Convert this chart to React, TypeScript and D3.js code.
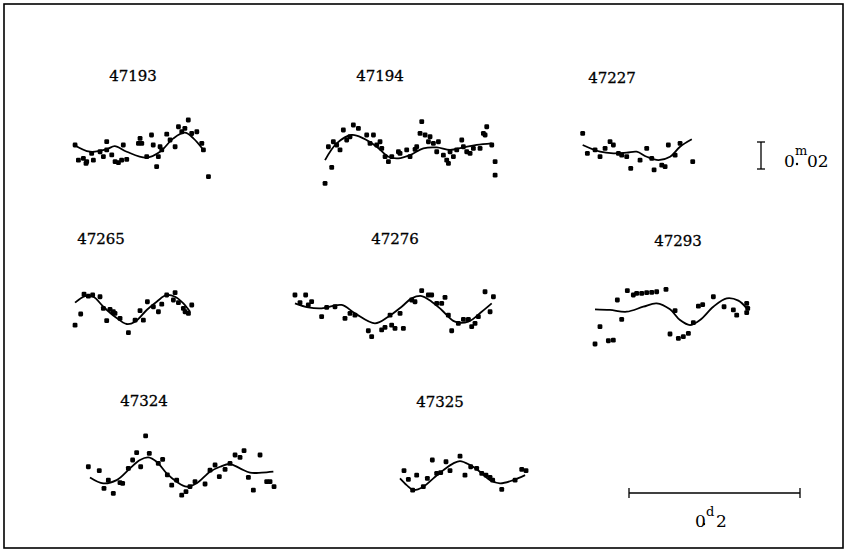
import React from "react";
import * as d3 from "d3";

// ---- data: phase in milli-days (md), magnitude offset in mmag (positive = fainter, downward)
const starIds = ["47193", "47194", "47227", "47265", "47276", "47293", "47324", "47325"];

const obs47193 = [[3.6,-1.5],[7.5,9.7],[13.3,8.4],[17.2,10.9],[16.4,12.1],[23,4.7],[25,9.7],[32.8,3.5],[36.7,7.2],[40.6,-4],[40.6,2.2],[46.5,5.9],[50.4,10.9],[54.3,11.6],[58,9.7],[60,-1.5],[64,9.2],[77.7,-2.7],[79.6,-6.4],[81.6,-2.7],[87.4,7.2],[93,-8.9],[95,-1.5],[101,7.2],[99,14.6],[103,-0.2],[105,2.2],[110.8,-9.6],[114.7,-5.2],[120.6,-0.2],[124.5,-15],[128.4,-11.3],[132,-13.8],[136,-20],[140,-10],[146,-11.3],[151.8,-2.7],[153.7,2.2],[159.6,22]];
const fit47193 = [[1.6,-1.9],[21,3.5],[40.6,1.7],[50,-0.7],[64,3.5],[87,7.9],[103,3.5],[118.6,-6.4],[132,-10.6],[142,-6.4],[153.7,2.2]];

const obs47194 = [[2.4,27],[10.2,15.1],[6.3,-0.2],[12.1,-3.9],[16,-1.5],[19.9,2.2],[23.8,-12.6],[27.7,-5.2],[31.6,-7.6],[35.5,-16.3],[41.4,-13.8],[51.1,-8.9],[59,-8.9],[55,-2.7],[62.8,-1.5],[66.7,-3.9],[68.7,1],[72.6,7.2],[76.5,10.9],[80.4,7.2],[88.2,3.5],[90.1,4.7],[97.9,2.2],[101.8,7.2],[107.7,1.7],[109.6,-0.2],[115.5,-18.8],[113.5,-10.1],[119.4,-8.9],[125.2,-7.6],[123.3,-3.9],[129.1,-2.7],[135,-3.9],[133,3.5],[140.8,6],[144.7,9.7],[146.7,12.1],[148.6,3.5],[152.5,7.2],[156.4,2.2],[162.3,-5.2],[164.2,-0.2],[168.1,3.5],[172,4.7],[175.9,1],[183.7,1],[187.6,-10.1],[191.5,-15],[189.6,-8.9],[197.4,-1.5],[201.3,10.9],[201.3,20.8]];
const fit47194 = [[2.4,9.7],[16,-2.7],[33.6,-8.9],[47.2,-6.4],[62.8,-0.2],[76.5,7.2],[88.2,8.4],[101.8,6],[117.4,1],[133,0.3],[148.6,2.2],[164.2,0.3],[179.8,-1.5],[197.4,-2.7]];

const obs47227 = [[0.8,-10.1],[6.3,4.7],[15.3,2.2],[21.1,7.2],[27,1],[32.8,-4],[36.7,-1.5],[42.6,4.7],[46.5,6],[52.3,7.2],[57,15.8],[67.9,9.7],[75.7,1],[81.6,8.4],[84.3,17],[93.3,13.4],[97.2,14.6],[101,-1.5],[108.9,6],[114.7,-2.7],[129.5,10.9]];
const fit47227 = [[0.8,-1.5],[21.1,3.5],[36.7,4.7],[52.3,4.2],[64,3.5],[75.7,7.2],[89.4,9.7],[103,7.2],[114.7,-0.2],[128.4,-5.7]];

const obs47265 = [[2.4,13.4],[9,5.2],[12.9,-9.6],[18,-8.1],[23,-8.9],[31.6,-7.6],[35.5,1],[39.4,10.1],[43.3,1.7],[47.2,3.5],[49.1,4.7],[55,8.4],[64.8,19],[72.6,9.7],[78.4,2.7],[82.3,9.7],[87,-3.9],[94,-0.2],[99.9,3.5],[103.8,-2.2],[109.6,-8.9],[119.4,-10.6],[117.4,-5.2],[123.3,-3.2],[129.1,1],[131.1,3.5],[135,4.7],[138.9,-1.5]];
const fit47265 = [[2.4,-3.2],[14,-8.1],[23.8,-7.6],[35.5,-0.2],[49.1,7.2],[62.8,12.6],[72.6,10.9],[86.2,2.2],[97.9,-3.9],[109.6,-8.9],[119.4,-7.6],[129.1,-2.7],[136.9,3.5]];

const obs47276 = [[2.3,-8.9],[8.2,-3.2],[14.8,-8.9],[17.9,-1.5],[21.8,-4],[33.5,7.2],[39.4,0.3],[49.1,-0.2],[60.8,8.4],[66.7,4.7],[72.5,6],[88.1,17.6],[92,22],[103.7,17],[107.6,15.1],[113.5,6],[115.4,13.4],[119.3,15.8],[125.2,4.7],[129.1,15.8],[138.8,-5.2],[142.7,-3.9],[150.5,-12.1],[158.3,-8.9],[162.2,-8.9],[168.1,-2.7],[173.9,-2.7],[177.8,-7.1],[181.7,6],[185.6,17.6],[193.4,12.1],[199.3,9.2],[205.1,9.2],[209,14.6],[212.9,12.1],[216.8,7.2],[224.6,-11.3],[230.5,3.5],[234.4,-7.6]];
const fit47276 = [[2.3,-2.7],[17.9,0.3],[33.5,1],[56.9,-1.5],[72.5,4.7],[95.9,12.1],[111.5,7.2],[127.1,-0.2],[138.8,-6.4],[150.5,-8.1],[162.2,-3.9],[173.9,2.2],[189.5,10.9],[205.1,10.9],[220.7,3.5],[232.4,-2.7]];

const obs47293 = [[1.2,27.4],[7,14.6],[16.8,25],[22.6,24.5],[27.3,-5.2],[32.4,9.2],[39,-12.1],[46,-8.9],[49.9,-10.1],[55.8,-10.1],[61.6,-10.6],[67.5,-10.9],[73.3,-11.3],[84.2,-13.1],[94.8,2.7],[88.9,20],[98.7,23.2],[104.5,22],[110.4,19.5],[116.2,11.6],[122.1,-0.7],[127.1,-1.7],[139.6,-7.6],[152.1,-0.2],[163,2.2],[166.9,6],[178.6,-2.7],[179.8,1],[178.6,4.2]];
const fit47293 = [[1.2,1.7],[18.7,2.2],[38.2,3.5],[57.7,-0.2],[73.3,-2.7],[88.9,1.7],[100.6,9.7],[112.3,13.4],[124,9.7],[139.6,-0.2],[155.2,-6.4],[168.9,-4.7],[178.6,1]];

const obs47324 = [[0.4,-0.2],[13.2,2.7],[18.7,15.8],[23.8,9.7],[29.6,19.5],[37.4,11.6],[40.5,12.1],[47.2,1],[52.2,-5.2],[56.9,-10.6],[61.6,-0.2],[67.4,-23],[71.7,-10.1],[82.2,-2.7],[87.3,-5.7],[92.8,5.9],[97.9,13.4],[103.7,9.7],[109.6,20.8],[114.6,18.3],[119.3,14.6],[125.2,10.9],[136.9,12.6],[142.7,2.3],[148.6,-1.5],[153.6,7.2],[160.3,1.8],[166.1,-2.7],[172,-8.9],[177.8,-7.1],[182.5,-12.1],[187.6,7.7],[193.4,17.1],[201.2,-8.9],[209,10.9],[212.9,10.9],[217.6,14.6]];
const fit47324 = [[2.3,7.7],[17.9,12.1],[33.5,9.7],[49.1,1],[60.8,-5.2],[70.6,-7.1],[80.3,-3.9],[92,4.7],[103.7,10.9],[115.4,14.6],[127.1,12.1],[142.7,3.5],[154.4,-0.2],[166.1,-2.2],[177.8,1],[189.5,4.2],[203.2,4.2],[216.8,3.5]];

const obs47325 = [[4.7,2.7],[9.8,9.2],[19.5,6],[14.8,17.1],[27.3,14.6],[32,8.4],[37.8,-5.2],[42.9,4.7],[47.6,4.2],[53.8,-3.9],[58.5,2.7],[70.2,-8.1],[76,6],[82.7,-0.2],[89.7,1],[95.6,4.7],[100.6,6],[105.3,7.7],[108.4,9.7],[119,16.6],[134.6,9.7],[142.4,1.8],[147.4,2.7]];
const fit47325 = [[0,8.4],[7.8,13.4],[15.6,17.1],[27.3,14.6],[39,8.4],[50.7,2.3],[62.4,-2.7],[70.2,-4.4],[81.9,-1.5],[93.6,3.5],[105.3,9.7],[117,12.1],[132.6,9.7],[146.3,6]];

const observations = [obs47193, obs47194, obs47227, obs47265, obs47276, obs47293, obs47324, obs47325];
const fits = [fit47193, fit47194, fit47227, fit47265, fit47276, fit47293, fit47324, fit47325];

const phaseBar = 200; // md  (0.2 d)
const magBar = 20; // mmag (0.02 mag)

// ---- layout (pixels)
const W = 849, H = 554;
const layout = [
  { x: 72, y: 147, lx: 133, ly: 81 },
  { x: 323, y: 147, lx: 380, ly: 81 },
  { x: 582, y: 147, lx: 612, ly: 83 },
  { x: 73, y: 307, lx: 101, ly: 244 },
  { x: 293, y: 307, lx: 395, ly: 244 },
  { x: 594, y: 307, lx: 678, ly: 246 },
  { x: 88, y: 467, lx: 144, ly: 406 },
  { x: 400, y: 467, lx: 440, ly: 407 },
];

const xs = d3.scaleLinear().domain([0, 200]).range([0, 171]);
const ys = d3.scaleLinear().domain([0, 20]).range([0, 27]);
const line = d3.line<number[]>().x(d => xs(d[0])).y(d => ys(d[1])).curve(d3.curveCatmullRom.alpha(0.5));

const font = "'DejaVu Serif', serif";

export default function App() {
  const mb = { x: 761, y: 142 };
  const pb = { x: 629, y: 493 };
  return (
    <svg width={W} height={H} style={{ position: "absolute", left: 0, top: 0, background: "#fff" }}>
      <rect x={4} y={4} width={839} height={544} fill="none" stroke="#000" strokeWidth={1.6} />
      {starIds.map((id, i) => {
        const L = layout[i];
        return (
          <g key={id}>
            <text x={L.lx} y={L.ly} textAnchor="middle" fontFamily={font} fontSize={15} fill="#000" stroke="#000" strokeWidth={0.3}>{id}</text>
            <g transform={`translate(${L.x},${L.y})`}>
              <path d={line(fits[i] as any) || ""} fill="none" stroke="#000" strokeWidth={1.8} />
              {observations[i].map((p, j) => (
                <rect key={j} x={xs(p[0]) - 2.4} y={ys(p[1]) - 2.4} width={4.8} height={4.8} rx={1.3} fill="#000" />
              ))}
            </g>
          </g>
        );
      })}
      {/* magnitude scale bar */}
      <g transform={`translate(${mb.x},${mb.y})`} stroke="#000" strokeWidth={1.3}>
        <line x1={0} y1={ys(0)} x2={0} y2={ys(magBar)} />
        <line x1={-4} y1={ys(0)} x2={4} y2={ys(0)} />
        <line x1={-4} y1={ys(magBar)} x2={4} y2={ys(magBar)} />
      </g>
      <g fontFamily={font} fill="#000">
        <text x={784} y={167} fontSize={17}>0</text>
        <text x={795} y={155} fontSize={13}>m</text>
        <text x={807} y={167} fontSize={17}>02</text>
      </g>
      <circle cx={797} cy={164} r={1.2} fill="#000" />
      {/* phase scale bar */}
      <g transform={`translate(${pb.x},${pb.y})`} stroke="#000" strokeWidth={1.3}>
        <line x1={xs(0)} y1={0} x2={xs(phaseBar)} y2={0} />
        <line x1={xs(0)} y1={-5} x2={xs(0)} y2={5} />
        <line x1={xs(phaseBar)} y1={-5} x2={xs(phaseBar)} y2={5} />
      </g>
      <g fontFamily={font} fill="#000">
        <text x={695} y={527} fontSize={17}>0</text>
        <text x={706} y={516} fontSize={13}>d</text>
        <text x={716} y={527} fontSize={17}>2</text>
      </g>
      <circle cx={704} cy={524} r={1.2} fill="#000" />
    </svg>
  );
}
